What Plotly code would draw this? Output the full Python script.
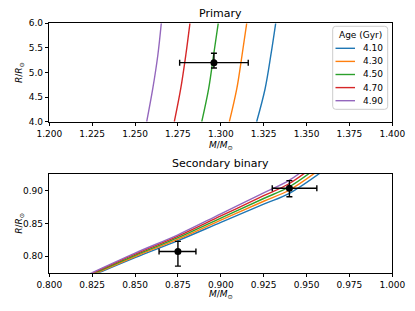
import plotly.graph_objects as go

# ---------------- data ----------------
ages = ["4.10", "4.30", "4.50", "4.70", "4.90"]
colors = ["#1f77b4", "#ff7f0e", "#2ca02c", "#d62728", "#9467bd"]

# Primary isochrones (R/Rsun sampled at these radii, mass read per age)
prim_r = [4.0, 4.665, 5.356, 6.0]
prim_m = {
    "4.10": [1.3209, 1.3258, 1.3292, 1.3320],
    "4.30": [1.3050, 1.3093, 1.3124, 1.3151],
    "4.50": [1.2889, 1.2929, 1.2958, 1.2985],
    "4.70": [1.2729, 1.2766, 1.2796, 1.2820],
    "4.90": [1.2568, 1.2603, 1.2633, 1.2653],
}

# Secondary isochrones (mass grid, radius read per age)
sec_m = [0.82, 0.85, 0.875, 0.90, 0.925, 0.94, 0.96]
sec_r = {
    "4.10": [0.7645, 0.7975, 0.8235, 0.8515, 0.8795, 0.896, 0.931],
    "4.30": [0.7655, 0.7993, 0.8258, 0.8548, 0.8838, 0.901, 0.937],
    "4.50": [0.7665, 0.8010, 0.8280, 0.8580, 0.8880, 0.906, 0.943],
    "4.70": [0.7675, 0.8028, 0.8303, 0.8613, 0.8923, 0.911, 0.949],
    "4.90": [0.7685, 0.8045, 0.8325, 0.8645, 0.8965, 0.916, 0.955],
}

# Observed primary
prim_obs_m = [1.296]
prim_obs_m_err = [0.020]
prim_obs_r = [5.20]
prim_obs_r_plus = [0.19]
prim_obs_r_minus = [0.11]

# Observed secondary binary components
sec_obs_m = [0.875, 0.940]
sec_obs_m_plus = [0.0105, 0.016]
sec_obs_m_minus = [0.0110, 0.010]
sec_obs_r = [0.807, 0.9037]
sec_obs_r_plus = [0.0155, 0.0116]
sec_obs_r_minus = [0.0225, 0.0129]

prim_xticks = [1.200, 1.225, 1.250, 1.275, 1.300, 1.325, 1.350, 1.375, 1.400]
prim_yticks = [4.0, 4.5, 5.0, 5.5, 6.0]
sec_xticks = [0.800, 0.825, 0.850, 0.875, 0.900, 0.925, 0.950, 0.975, 1.000]
sec_yticks = [0.80, 0.85, 0.90]

# ---------------- figure ----------------
W, H = 415, 311
FONT = "DejaVu Sans"
fig = go.Figure()

for age, c in zip(ages, colors):
    fig.add_trace(go.Scatter(
        x=prim_m[age], y=prim_r, mode="lines", name=age,
        line=dict(color=c, width=1.4, shape="spline"),
        xaxis="x", yaxis="y", showlegend=False))

for age, c in zip(ages, colors):
    fig.add_trace(go.Scatter(
        x=sec_m, y=sec_r[age], mode="lines", name=age,
        line=dict(color=c, width=1.4, shape="spline"),
        xaxis="x2", yaxis="y2", showlegend=False))

fig.add_trace(go.Scatter(
    x=prim_obs_m, y=prim_obs_r, mode="markers",
    marker=dict(color="black", size=7),
    error_x=dict(type="data", array=prim_obs_m_err, color="black", thickness=1.4, width=3),
    error_y=dict(type="data", symmetric=False, array=prim_obs_r_plus,
                 arrayminus=prim_obs_r_minus, color="black", thickness=1.4, width=3),
    xaxis="x", yaxis="y", showlegend=False))

fig.add_trace(go.Scatter(
    x=sec_obs_m, y=sec_obs_r, mode="markers",
    marker=dict(color="black", size=7),
    error_x=dict(type="data", symmetric=False, array=sec_obs_m_plus,
                 arrayminus=sec_obs_m_minus, color="black", thickness=1.4, width=3),
    error_y=dict(type="data", symmetric=False, array=sec_obs_r_plus,
                 arrayminus=sec_obs_r_minus, color="black", thickness=1.4, width=3),
    xaxis="x2", yaxis="y2", showlegend=False))

axis_common = dict(showline=True, linecolor="black", linewidth=1, mirror=True,
                   ticks="outside", ticklen=3.5, tickwidth=1, tickcolor="black",
                   showgrid=False, zeroline=False, automargin=False,
                   tickfont=dict(family=FONT, size=9, color="black"))

xl = 49.3 / W
xr = 392.3 / W

def px(xp):
    return xp / W

def py(yp):
    return 1 - yp / H

xlabel = "<i>M</i>/<i>M</i><sub>⊙</sub>"
ylabel = "<i>R</i>/<i>R</i><sub>⊙</sub>"

fig.update_layout(
    width=W, height=H,
    margin=dict(l=0, r=0, t=0, b=0),
    paper_bgcolor="white", plot_bgcolor="white",
    font=dict(family=FONT, size=9, color="black"),
    showlegend=False,
    xaxis=dict(domain=[xl, xr], anchor="y", range=[1.2, 1.4],
               tickvals=prim_xticks, ticktext=[f"{v:.3f}" for v in prim_xticks],
               **axis_common),
    yaxis=dict(domain=[py(121.7), py(23.3)], anchor="x", range=[4.0, 6.0],
               tickvals=prim_yticks, ticktext=[f"{v:.1f}" for v in prim_yticks],
               **axis_common),
    xaxis2=dict(domain=[xl, xr], anchor="y2", range=[0.8, 1.0],
                tickvals=sec_xticks, ticktext=[f"{v:.3f}" for v in sec_xticks],
                **axis_common),
    yaxis2=dict(domain=[py(272.7), py(174)], anchor="x2", range=[0.7745, 0.9255],
                tickvals=sec_yticks, ticktext=[f"{v:.2f}" for v in sec_yticks],
                **axis_common),
)

def ann(text, x, y, size=9, angle=0, xanchor="center"):
    return dict(text=text, x=px(x), y=py(y), xref="paper", yref="paper",
                showarrow=False, font=dict(family=FONT, size=size, color="black"),
                xanchor=xanchor, yanchor="middle", textangle=angle)

xc = (49.3 + 392.3) / 2
annotations = [
    ann("Primary", xc, 14, size=11),
    ann("Secondary binary", xc, 163, size=11),
    ann(xlabel, xc, 145),
    ann(xlabel, xc, 294),
    ann(ylabel, 19.5, (23.3 + 121.7) / 2, angle=-90),
    ann(ylabel, 19.5, (174 + 272.7) / 2, angle=-90),
]

# legend box (matplotlib-style) drawn in paper space
bx0, bx1, by0, by1, rr = 332.7, 387.7, 26.3, 109.3, 3
path = (f"M {px(bx0 + rr)},{py(by0)} L {px(bx1 - rr)},{py(by0)} "
        f"Q {px(bx1)},{py(by0)} {px(bx1)},{py(by0 + rr)} "
        f"L {px(bx1)},{py(by1 - rr)} Q {px(bx1)},{py(by1)} {px(bx1 - rr)},{py(by1)} "
        f"L {px(bx0 + rr)},{py(by1)} Q {px(bx0)},{py(by1)} {px(bx0)},{py(by1 - rr)} "
        f"L {px(bx0)},{py(by0 + rr)} Q {px(bx0)},{py(by0)} {px(bx0 + rr)},{py(by0)} Z")
shapes = [dict(type="path", path=path, xref="paper", yref="paper",
               fillcolor="rgba(255,255,255,0.8)", line=dict(color="#cccccc", width=1),
               layer="above")]
annotations.append(ann("Age (Gyr)", 360.2, 35.5))
entry_y = [48.3, 61.4, 74.5, 87.6, 100.7]
for age, c, ey in zip(ages, colors, entry_y):
    shapes.append(dict(type="line", x0=px(335.5), x1=px(355), y0=py(ey), y1=py(ey),
                       xref="paper", yref="paper", line=dict(color=c, width=1.4),
                       layer="above"))
    annotations.append(ann(age, 384.5, ey, xanchor="right"))

fig.update_layout(shapes=shapes, annotations=annotations)

fig.write_html("out.html", config={"displayModeBar": False},
               post_script="document.body.style.margin='0px';document.body.style.padding='0px';")
